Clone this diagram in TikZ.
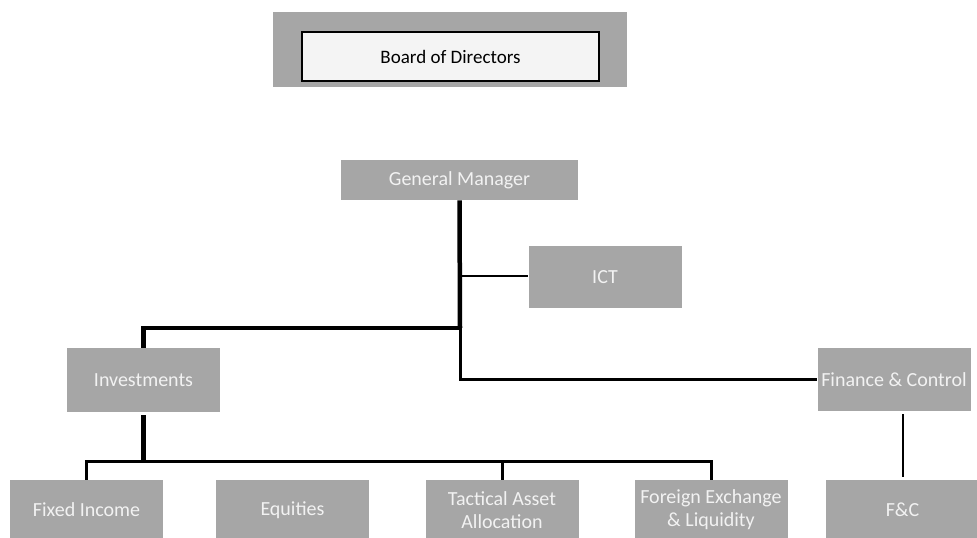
\documentclass[tikz,border=0pt]{standalone}
\usepackage{fontspec}
\setmainfont{Carlito}
\usetikzlibrary{calc,positioning}
\definecolor{boxgray}{HTML}{A6A6A6}
\definecolor{boxtext}{HTML}{F2F2F2}
\definecolor{boardfill}{HTML}{F4F4F4}
\begin{document}
\begin{tikzpicture}[x=1pt,y=-1pt,semithick]
\tikzstyle{unit}=[fill=boxgray,text=boxtext,minimum width=153pt,inner sep=0pt,align=center,font=\fontsize{20}{23}\selectfont]
\tikzstyle{thick link}=[line width=4.5pt]
\tikzstyle{mid link}=[line width=3pt]
\tikzstyle{thin link}=[line width=2pt]
\useasboundingbox (0,0) rectangle (977,538);
\node[fill=boxgray,minimum width=354pt,minimum height=75pt,inner sep=0pt] at (450,49.5) (boardback){};
\node[draw=black,line width=2.5pt,fill=boardfill,minimum width=297pt,minimum height=49pt,inner sep=0pt,font=\fontsize{19}{22}\selectfont] at (450.5,56.5) (board){Board of Directors};
\node[unit,minimum width=237pt,minimum height=40pt] at (459.5,180) (gm){General Manager};
\node[unit,minimum height=62pt] at (605,277) (ict){ICT};
\node[unit,minimum height=64pt] at (143.5,380) (inv){Investments};
\node[unit,minimum height=63pt] at (894,379.5) (fin){Finance \& Control};
\node[unit,minimum height=60pt] at (86.5,510) (fixed){Fixed Income};
\node[unit,minimum height=60pt] at (292.5,510) (equ){Equities};
\node[unit,minimum height=60pt] at (502,510) (taa){Tactical Asset\\Allocation};
\node[unit,minimum height=60pt] at (711,510) (fx){Foreign Exchange\\\& Liquidity};
\node[unit,minimum height=60pt] at (902.5,510) (fc){F\&C};
\coordinate (split) at (460,328);
\coordinate (bar) at (143.5,461);
 %draw
 \draw[thick link] (gm.south) -- (split);
 \draw[thick link] (split) -| (inv.north);
 \draw[mid link] (split) |- (fin.west);
 \draw[thin link] (gm.south |- 0,276) -- (ict.west |- 0,276);
 \draw[thick link,shorten <=3pt] (inv.south) -- (bar);
 \draw[mid link] (fixed.north) |- (bar) -| (fx.north);
 \draw[mid link] (bar -| taa.north) -- (taa.north);
 \draw[thin link,shorten >=3pt,shorten <=3pt] (fc.north) -- (fc.north |- fin.south);
\end{tikzpicture}
\end{document}
